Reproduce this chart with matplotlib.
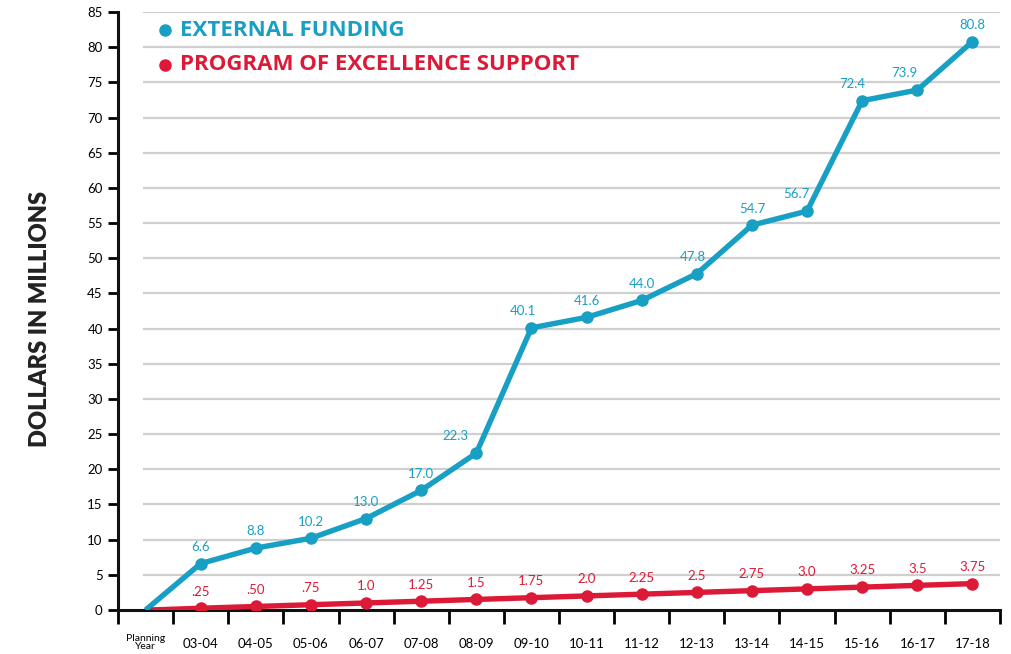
import matplotlib.pyplot as plt

years = ["Planning\nYear", "03-04", "04-05", "05-06", "06-07", "07-08", "08-09", "09-10",
         "10-11", "11-12", "12-13", "13-14", "14-15", "15-16", "16-17", "17-18"]
external = [0, 6.6, 8.8, 10.2, 13.0, 17.0, 22.3, 40.1, 41.6, 44.0, 47.8, 54.7, 56.7, 72.4, 73.9, 80.8]
external_lbl = ["", "6.6", "8.8", "10.2", "13.0", "17.0", "22.3", "40.1", "41.6", "44.0", "47.8",
                "54.7", "56.7", "72.4", "73.9", "80.8"]
poe = [0, 0.25, 0.50, 0.75, 1.0, 1.25, 1.5, 1.75, 2.0, 2.25, 2.5, 2.75, 3.0, 3.25, 3.5, 3.75]
poe_lbl = ["", ".25", ".50", ".75", "1.0", "1.25", "1.5", "1.75", "2.0", "2.25", "2.5", "2.75",
           "3.0", "3.25", "3.5", "3.75"]

blue = "#189fc4"
red = "#dc1a38"

plt.rcParams['font.family'] = ['Lato', 'DejaVu Sans']

fig = plt.figure(figsize=(10.12, 6.54), dpi=100)
ax = fig.add_axes([118/1012, 1-610/654, 882/1012, 598/654])

x = list(range(len(years)))

for g in range(5, 86, 5):
    ax.hlines(g, -0.05, len(years)-0.5, color="#cfcfcf", lw=1.6, zorder=1)

ax.plot(x, external, color=blue, lw=3.9, marker="o", ms=8, markevery=list(range(1, len(x))),
        solid_capstyle="butt", zorder=3)
ax.plot([0.1] + x[1:], poe, color=red, lw=3.9, marker="o", ms=8, markevery=list(range(1, len(x))),
        solid_capstyle="butt", zorder=4)

# labels that sit left of their point in the original (offset in points)
shift = {6: -15, 7: -6, 10: -3, 12: -8, 13: -7, 14: -9}

for i in x:
    if external_lbl[i]:
        ax.annotate(external_lbl[i], (i, external[i]), xytext=(shift.get(i, 0), 12),
                    textcoords="offset points", ha="center", va="center", color=blue, fontsize=9.5)
    if poe_lbl[i]:
        ax.annotate(poe_lbl[i], (i, poe[i]), xytext=(0, 12), textcoords="offset points",
                    ha="center", va="center", color=red, fontsize=9.5)

ax.set_xlim(-0.5, len(years)-0.5)
ax.set_ylim(0, 85)
ax.set_yticks(range(0, 86, 5))
ax.tick_params(axis="y", length=7, width=2, labelsize=9.5, pad=4)

ax.set_xticks([i + 0.5 for i in range(-1, len(years))], minor=False)
ax.set_xticklabels([])
ax.tick_params(axis="x", length=10, width=2, direction="out")
ax.set_xticks(x, minor=True)
ax.set_xticklabels([""] + years[1:], minor=True)
ax.tick_params(axis="x", which="minor", length=0, labelsize=9.5, pad=20)
# the first category label is smaller and sits a little higher
ax.annotate(years[0], (x[0], 0), xytext=(0, -23.5), textcoords="offset points",
            ha="center", va="center", fontsize=7.5, linespacing=0.85, annotation_clip=False)

for s in ["top", "right"]:
    ax.spines[s].set_visible(False)
for s in ["left", "bottom"]:
    ax.spines[s].set_linewidth(2.2)
    ax.spines[s].set_color("#111111")

fig.text(40/1012, 1-319/654, "DOLLARS IN MILLIONS", rotation=90, ha="center", va="center",
         fontsize=17, fontweight="heavy", color="#222222")

ax.plot([0.36], [82.4], "o", color=blue, ms=8, clip_on=False, zorder=5)
ax.text(0.62, 82.4, "EXTERNAL FUNDING", color=blue, fontsize=16, fontweight="bold",
        family=["Open Sans", "DejaVu Sans"], va="center", ha="left")
ax.plot([0.36], [77.5], "o", color=red, ms=8, clip_on=False, zorder=5)
ax.text(0.62, 77.5, "PROGRAM OF EXCELLENCE SUPPORT", color=red, fontsize=16, fontweight="bold",
        family=["Open Sans", "DejaVu Sans"], va="center", ha="left")

fig.savefig("out.png", dpi=100)
